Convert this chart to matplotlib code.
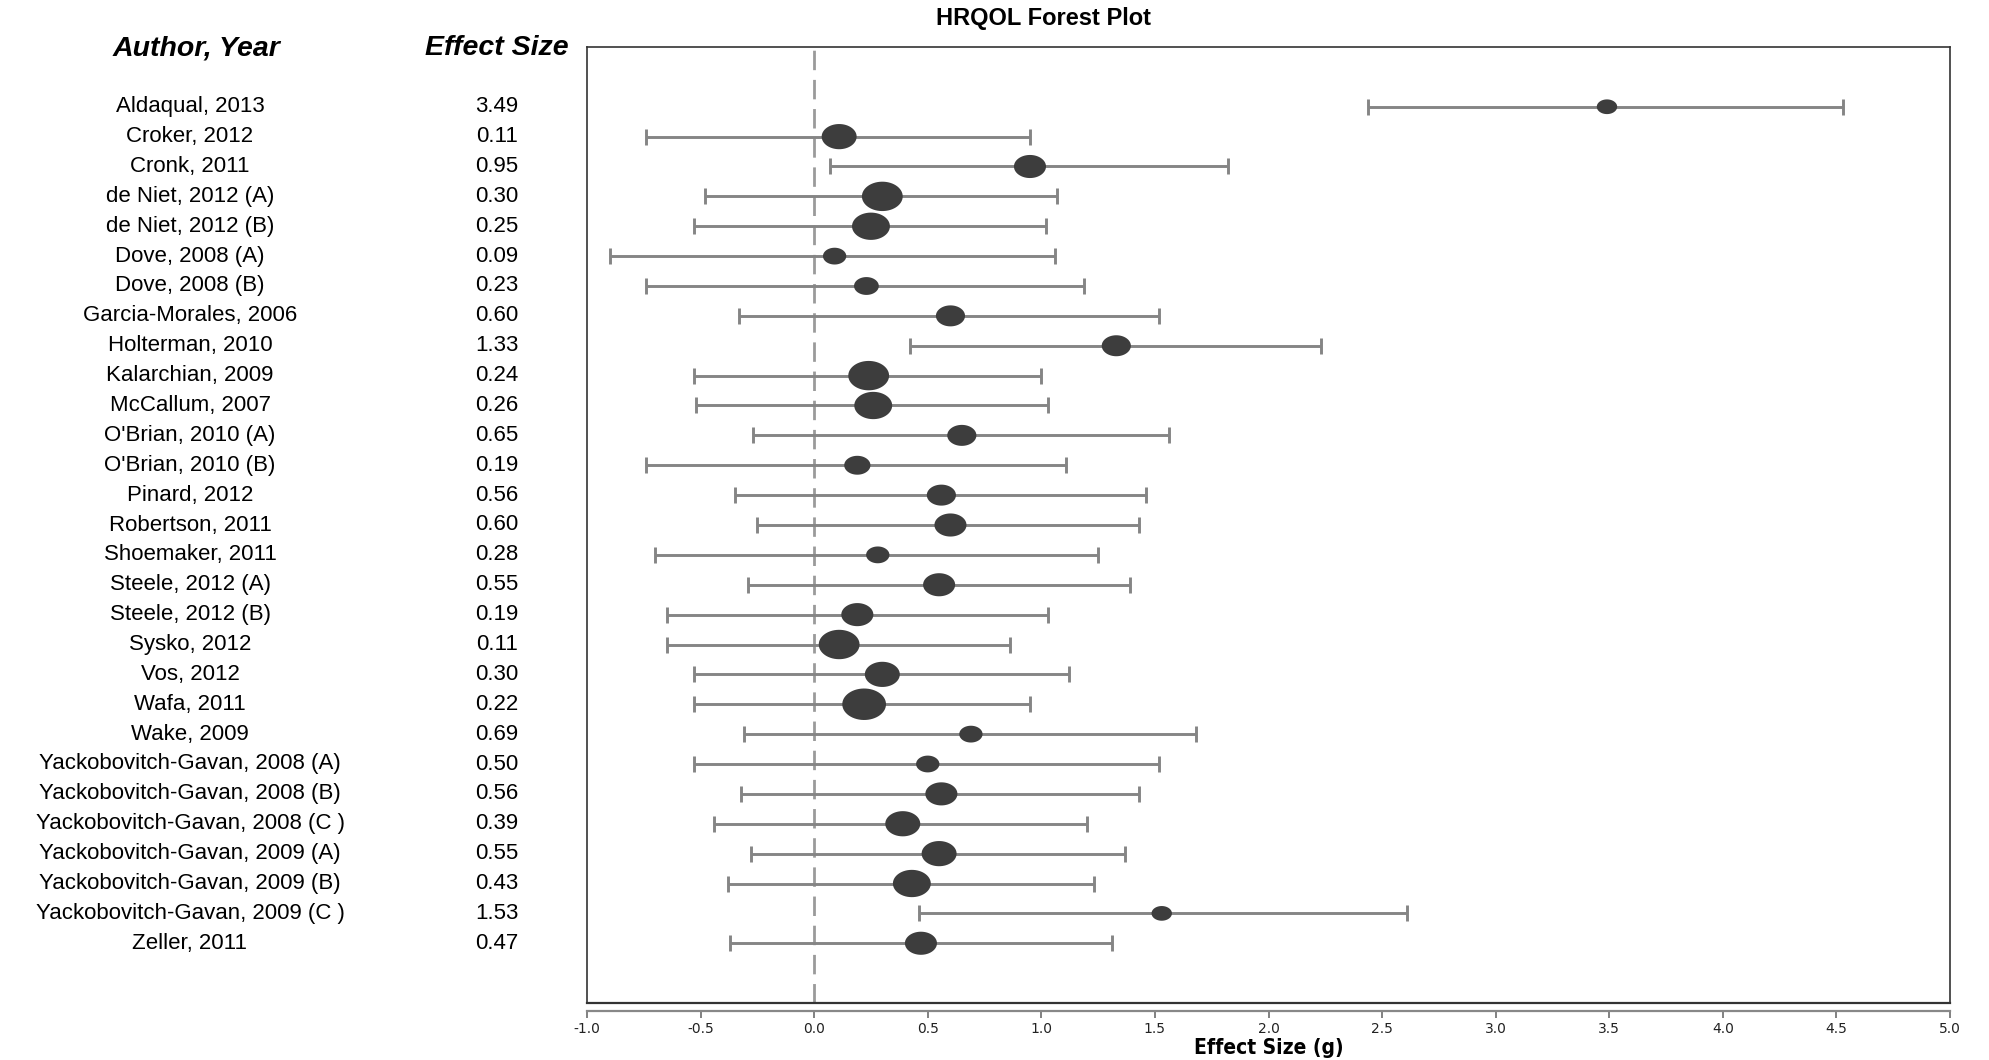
import numpy as np
import matplotlib
matplotlib.use('Agg')
import matplotlib.pyplot as plt
from matplotlib.path import Path
from matplotlib.transforms import blended_transform_factory

# datos del forest plot
estudios = ['Aldaqual, 2013', 'Croker, 2012', 'Cronk, 2011', 'de Niet, 2012 (A)',
            'de Niet, 2012 (B)', 'Dove, 2008 (A)', 'Dove, 2008 (B)', 'Garcia-Morales, 2006',
            'Holterman, 2010', 'Kalarchian, 2009', 'McCallum, 2007', "O'Brian, 2010 (A)",
            "O'Brian, 2010 (B)", 'Pinard, 2012', 'Robertson, 2011', 'Shoemaker, 2011',
            'Steele, 2012 (A)', 'Steele, 2012 (B)', 'Sysko, 2012', 'Vos, 2012',
            'Wafa, 2011', 'Wake, 2009', 'Yackobovitch-Gavan, 2008 (A)',
            'Yackobovitch-Gavan, 2008 (B)', 'Yackobovitch-Gavan, 2008 (C )',
            'Yackobovitch-Gavan, 2009 (A)', 'Yackobovitch-Gavan, 2009 (B)',
            'Yackobovitch-Gavan, 2009 (C )', 'Zeller, 2011']
efecto = [3.49, 0.11, 0.95, 0.30, 0.25, 0.09, 0.23, 0.60, 1.33, 0.24, 0.26, 0.65,
          0.19, 0.56, 0.60, 0.28, 0.55, 0.19, 0.11, 0.30, 0.22, 0.69, 0.50, 0.56,
          0.39, 0.55, 0.43, 1.53, 0.47]
ic_inf = [2.44, -0.74, 0.07, -0.48, -0.53, -0.90, -0.74, -0.33, 0.42, -0.53, -0.52,
          -0.27, -0.74, -0.35, -0.25, -0.70, -0.29, -0.65, -0.65, -0.53, -0.53, -0.31,
          -0.53, -0.32, -0.44, -0.28, -0.38, 0.46, -0.37]
ic_sup = [4.53, 0.95, 1.82, 1.07, 1.02, 1.06, 1.19, 1.52, 2.23, 1.00, 1.03, 1.56,
          1.11, 1.46, 1.43, 1.25, 1.39, 1.03, 0.86, 1.12, 0.95, 1.68, 1.52, 1.43,
          1.20, 1.37, 1.23, 2.61, 1.31]
# peso relativo de cada estudio (tamano del punto)
peso = [14, 24, 22, 28, 26, 16, 17, 20, 20, 28, 26, 20, 18, 20, 22, 16, 22, 22,
        28, 24, 30, 16, 16, 22, 24, 24, 26, 14, 22]

W, H = 1989, 1060
fig = plt.figure(figsize=(W / 100, H / 100), dpi=100)
ax = fig.add_axes([587 / W, 1 - 1003 / H, (1950 - 587) / W, (1003 - 47) / H])

y = np.arange(len(estudios))
efecto = np.array(efecto)
err = [efecto - np.array(ic_inf), np.array(ic_sup) - efecto]

ax.axvline(0, color='#9a9a9a', lw=2, ls=(0, (7, 3.5)), zorder=1)
ax.errorbar(efecto, y, xerr=err, fmt='none', ecolor='#858585', elinewidth=2.1,
            capsize=5.5, capthick=2.1, zorder=2)

# marcador eliptico (mas ancho que alto)
t = np.linspace(0, 2 * np.pi, 60)
elipse = Path(np.column_stack([np.cos(t), 0.72 * np.sin(t)]), closed=True)
ax.scatter(efecto, y, s=(np.array(peso) * 1.05) ** 2, marker=elipse,
           color='#3d3d3d', edgecolors='none', zorder=3)

ax.set_xlim(-1, 5)
ax.set_ylim(len(estudios) + 1, -2)
ax.set_yticks([])
ax.set_xticks(np.arange(-1, 5.01, 0.5))
ax.set_xticklabels(['%.1f' % v for v in np.arange(-1, 5.01, 0.5)],
                   fontsize=12, family='DejaVu Sans')
ax.tick_params(axis='x', direction='out', length=5, width=1.3, colors='#777777',
               labelcolor='#222222', pad=3)
for s in ['top', 'left', 'right']:
    ax.spines[s].set_color('#333333')
    ax.spines[s].set_linewidth(1.2)
ax.spines['bottom'].set_position(('outward', 6))
ax.spines['bottom'].set_color('#888888')
ax.spines['bottom'].set_linewidth(1.6)
# linea inferior del recuadro
ax.plot([0, 1], [0, 0], transform=ax.transAxes, color='#333333', lw=1.6,
        clip_on=False, zorder=5)

ax.set_xlabel('Effect Size (g)', fontsize=15, fontweight='bold',
              family='DejaVu Sans', stretch='condensed', labelpad=1)

trans = blended_transform_factory(fig.transFigure, ax.transData)
for i in range(len(estudios)):
    ax.text(190 / W, y[i], estudios[i], transform=trans, ha='center', va='center',
            fontsize=16, family='Liberation Sans', clip_on=False)
    ax.text(497 / W, y[i], '%.2f' % efecto[i], transform=trans, ha='center',
            va='center', fontsize=16, family='Liberation Sans', clip_on=False)

fig.text(197 / W, 1 - 48 / H, 'Author, Year', ha='center', va='center', fontsize=20.5,
         fontweight='bold', style='italic', family='Liberation Sans')
fig.text(497 / W, 1 - 48 / H, 'Effect Size', ha='center', va='center', fontsize=20.5,
         fontweight='bold', style='italic', family='Liberation Sans')
fig.text(1043 / W, 1 - 18 / H, 'HRQOL Forest Plot', ha='center', va='center',
         fontsize=17, fontweight='bold', family='Liberation Sans')

fig.savefig('out.png', dpi=100)
